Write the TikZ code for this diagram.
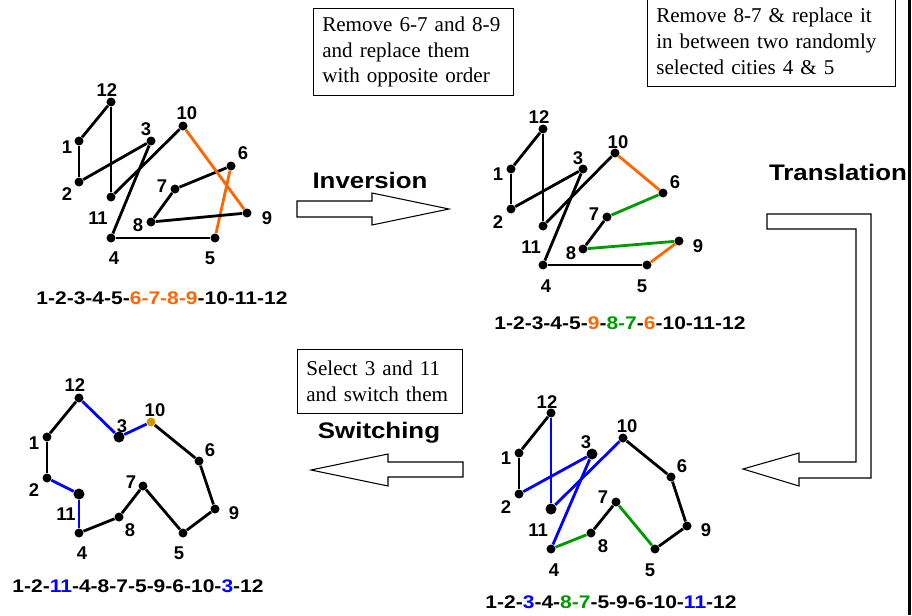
\documentclass[tikz,border=0pt]{standalone}
\usepackage{fontspec}
\setmainfont{Liberation Serif}
\newfontfamily\labelfont{Liberation Sans}
\newfontfamily\widefont[FakeStretch=1.15]{Liberation Sans}
\usetikzlibrary{arrows.meta, positioning}
\definecolor{orng}{HTML}{FF6600}
\definecolor{grn}{HTML}{009900}
\definecolor{blu}{HTML}{0000FF}
\definecolor{gold}{HTML}{CC9900}

\begin{document}
\begin{tikzpicture}[x=0.02cm, y=-0.02cm,
    city/.style={circle, fill=black, inner sep=0pt, minimum size=0.18cm},
    bigcity/.style={city, minimum size=0.22cm},
    num/.style={font=\labelfont\bfseries\fontsize{10.5}{12}\selectfont},
    tour/.style={line width=1.6pt},
    seq/.style={font=\widefont\bfseries\fontsize{10.4}{12}\selectfont},
    opname/.style={font=\widefont\bfseries\fontsize{12.8}{15}\selectfont},
    note/.style={draw, line width=0.6pt, align=left, anchor=north west,
                 inner xsep=5pt, font=\fontsize{12}{14.7}\selectfont},
    blockarrow/.style={draw, line width=0.6pt, fill=white}
  ]
    \useasboundingbox (0,0) rectangle (912,615);

    % initial tour
    \foreach \n/\x/\y in {12/111/102, 1/79/141, 2/79/182, 3/151/141, 4/111/238, 5/215/238,
                          6/231/166, 7/175/189, 8/151/222, 9/247/213, 10/183/126, 11/111/197}
      \node[city] (a\n) at (\x,\y) {};
    \foreach \n/\x/\y in {12/107/90, 1/67/147, 2/67/194, 3/146/129, 4/114/258, 5/210/258,
                          6/243/153, 7/162/186, 8/138/225, 9/267/218, 10/187/113, 11/98/218}
      \node[num] (la\n) at (\x,\y) {\n};
    \foreach \u/\v/\c in {12/1/black, 1/2/black, 2/3/black, 3/4/black, 4/5/black, 5/6/orng,
                          6/7/black, 7/8/black, 8/9/black, 9/10/orng, 10/11/black, 11/12/black}
      \draw[tour, draw=\c] (a\u) -- (a\v);
    \node[seq] (seqa) at (162,298) {1-2-3-4-5-\textcolor{orng}{6-7-8-9}-10-11-12};

    % after inversion
    \foreach \n/\x/\y in {12/543/129, 1/511/169, 2/511/209, 3/583/169, 4/543/265, 5/647/265,
                          6/663/193, 7/607/217, 8/583/249, 9/679/241, 10/615/153, 11/543/226}
      \node[city] (b\n) at (\x,\y) {};
    \foreach \n/\x/\y in {12/539/117, 1/498/174, 2/498/222, 3/578/158, 4/546/286, 5/642/286,
                          6/675/182, 7/594/214, 8/571/253, 9/698/246, 10/618/142, 11/531/247}
      \node[num] (lb\n) at (\x,\y) {\n};
    \foreach \u/\v/\c in {12/1/black, 1/2/black, 2/3/black, 3/4/black, 4/5/black, 5/9/orng,
                          9/8/grn, 8/7/black, 7/6/grn, 6/10/orng, 10/11/black, 11/12/black}
      \draw[tour, draw=\c] (b\u) -- (b\v);
    \node[seq] (seqb) at (620,323)
      {1-2-3-4-5-\textcolor{orng}{9}-\textcolor{grn}{8-7}-\textcolor{orng}{6}-10-11-12};

    % after switching
    \foreach \n/\x/\y in {12/79/398, 1/47/437, 2/47/478, 4/79/533, 8/119/517, 7/143/486,
                          5/183/533, 9/215/509, 6/199/461}
      \node[city] (c\n) at (\x,\y) {};
    \node[bigcity] (c3) at (119,437) {};
    \node[bigcity] (c11) at (79,494) {};
    \node[city, fill=gold] (c10) at (151,422) {};
    \foreach \n/\x/\y in {12/75/385, 1/34/443, 2/34/490, 11/66/514, 4/82/553, 8/130/530,
                          7/131/482, 5/179/553, 9/234/513, 6/210/450, 10/155/410, 3/122/426}
      \node[num] (lc\n) at (\x,\y) {\n};
    \foreach \u/\v/\c in {12/1/black, 1/2/black, 2/11/blu, 11/4/blu, 4/8/black, 8/7/black,
                          7/5/black, 5/9/black, 9/6/black, 6/10/black, 10/3/blu, 3/12/blu}
      \draw[tour, draw=\c] (c\u) -- (c\v);
    \node[seq] (seqc) at (138,586)
      {1-2-\textcolor{blu}{11}-4-8-7-5-9-6-10-\textcolor{blu}{3}-12};

    % after translation
    \foreach \n/\x/\y in {12/551/413, 1/519/453, 2/519/494, 4/551/549, 5/655/549,
                          6/671/477, 7/616/502, 8/591/533, 9/687/526, 10/623/438}
      \node[city] (d\n) at (\x,\y) {};
    \node[bigcity] (d3) at (592,454) {};
    \node[bigcity] (d11) at (551,509) {};
    \foreach \n/\x/\y in {12/547/402, 1/506/458, 2/506/507, 3/586/442, 4/554/570, 5/650/570,
                          6/682/466, 7/603/497, 8/603/546, 9/706/530, 10/627/426, 11/538/530}
      \node[num] (ld\n) at (\x,\y) {\n};
    \foreach \u/\v/\c in {12/1/black, 1/2/black, 2/3/blu, 3/4/blu, 4/8/grn, 8/7/black,
                          7/5/grn, 5/9/black, 9/6/black, 6/10/black, 10/11/blu, 11/12/blu}
      \draw[tour, draw=\c] (d\u) -- (d\v);
    \node[seq] (seqd) at (611,602)
      {1-2-\textcolor{blu}{3}-4-\textcolor{grn}{8-7}-5-9-6-10-\textcolor{blu}{11}-12};

    % notes and operations
    \node[note, text width=104pt, minimum height=1.74cm] (invnote) at (313,8)
      {Remove 6-7 and 8-9\\and replace them\\with opposite order};
    \node[note, text width=131pt, minimum height=1.8cm] (trnote) at (647,-4)
      {Remove 8-7 \& replace it\\in between two randomly\\selected cities 4 \& 5};
    \node[note, text width=84pt, minimum height=1.28cm] (swnote) at (297,349)
      {Select 3 and 11\\and switch them};
    \node[opname] (inv) at (370,180) {Inversion};
    \node[opname] (trans) at (838,172) {Translation};
    \node[opname] (sw) at (379,433) {Switching};

    \draw[blockarrow] (297,201) -- (372,201) -- (372,193) -- (449,209) -- (372,225)
      -- (372,217) -- (297,217) -- cycle;
    \draw[blockarrow] (767,214) -- (871,214) -- (871,478) -- (799,478) -- (799,486)
      -- (743,469) -- (799,453) -- (799,462) -- (856,462) -- (856,229) -- (767,229) -- cycle;
    \draw[blockarrow] (463,462) -- (388,462) -- (388,454) -- (311,470) -- (388,486)
      -- (388,477) -- (463,477) -- cycle;

    \draw[line width=1.7pt] (909.5,0) -- (909.5,615);
  \end{tikzpicture}
\end{document}
